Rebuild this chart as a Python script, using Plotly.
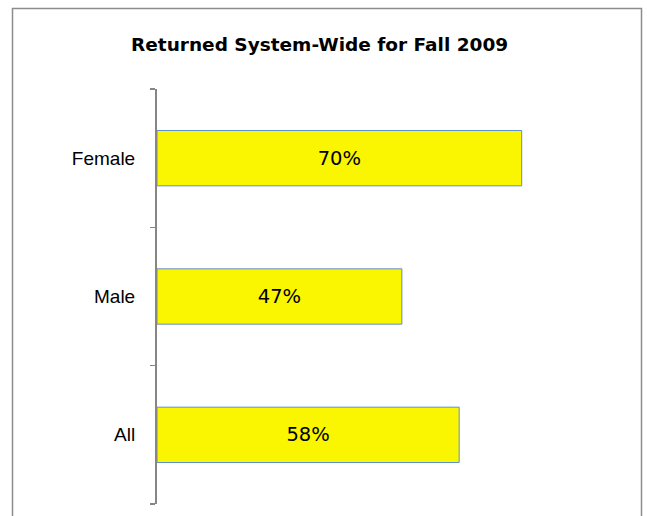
import plotly.graph_objects as go

categories = ["All", "Male", "Female"]
values = [0.58, 0.47, 0.70]
labels = ["58%", "47%", "70%"]
title_text = "Returned System-Wide for Fall 2009"

W, H = 647, 516
ml, mr, mt, mb = 157, 10, 89, 12
pw, ph = W - ml - mr, H - mt - mb

def px_x(x):
    return (x - ml) / pw

def px_y(y):
    return (H - mb - y) / ph

fig = go.Figure(go.Bar(
    y=categories, x=values, orientation="h",
    text=labels, textposition="inside", insidetextanchor="middle",
    textfont=dict(family="DejaVu Sans", size=19.5, color="#000000"),
    marker=dict(color="#FAF500", line=dict(color="#5B8FD0", width=1)),
    hoverinfo="skip",
))

fig.update_layout(
    width=W, height=H,
    margin=dict(l=ml, r=mr, t=mt, b=mb),
    paper_bgcolor="white", plot_bgcolor="white",
    bargap=0.6, showlegend=False,
    xaxis=dict(range=[0, pw / 521], visible=False, fixedrange=True),
    yaxis=dict(
        range=[-0.5, 2.5], showline=True, linecolor="#868686", linewidth=2,
        ticks="outside", tickson="boundaries", ticklen=5, tickcolor="#868686",
        tickwidth=1.5, showgrid=False, ticklabelstandoff=16,
        tickfont=dict(family="Liberation Sans", size=19, color="#000000"),
    ),
    annotations=[dict(
        text="<b>" + title_text + "</b>", showarrow=False,
        xref="paper", yref="paper", x=px_x(319), y=px_y(44.5),
        xanchor="center", yanchor="middle",
        font=dict(family="DejaVu Sans", size=18.5, color="#000000"),
    )],
    shapes=[dict(
        type="rect", xref="paper", yref="paper",
        x0=px_x(12.5), x1=px_x(641.5), y0=px_y(540), y1=px_y(8.5),
        line=dict(color="#8C8C8C", width=1.5), fillcolor="rgba(0,0,0,0)",
    )],
)

fig.write_html(
    "out.html",
    config={"displayModeBar": False, "staticPlot": True},
    post_script="document.body.style.margin='0';document.body.style.overflow='hidden';",
)
